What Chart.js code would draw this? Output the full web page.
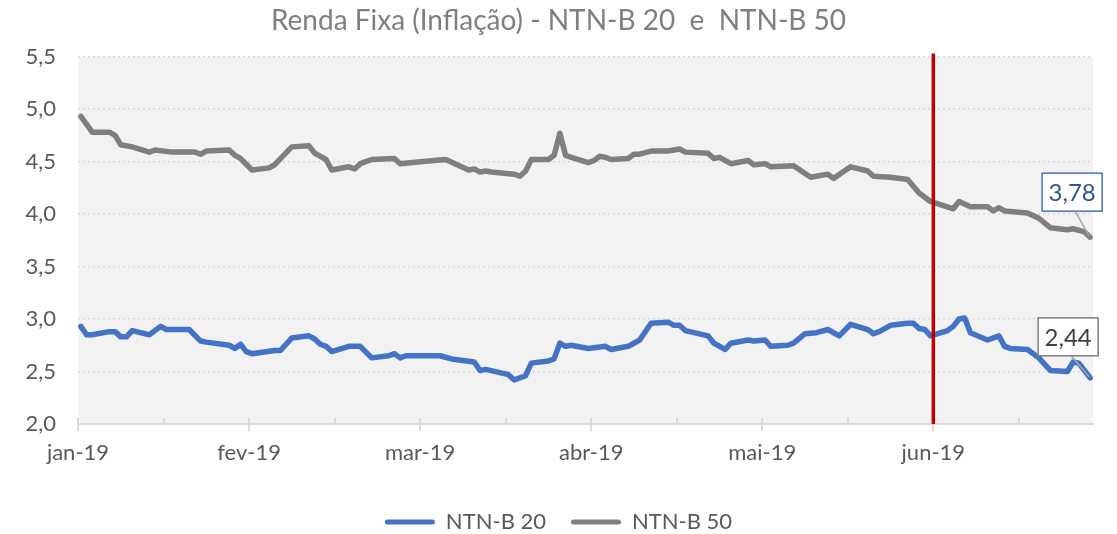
<!DOCTYPE html>
<html lang="pt-BR">
<head>
<meta charset="utf-8">
<title>Renda Fixa (Inflação) - NTN-B 20 e NTN-B 50</title>
<script src="https://cdn.jsdelivr.net/npm/chart.js@4.4.1/dist/chart.umd.min.js"></script>
<style>
  html, body { margin: 0; padding: 0; background: #fff; }
  #grafico { display: block; }
</style>
</head>
<body>
<canvas id="grafico" width="1117" height="534"></canvas>
<script>
// eixo x: índice do ponto (dia) na série; só os vértices visíveis da linha
const meses = ["jan-19", "fev-19", "mar-19", "abr-19", "mai-19", "jun-19"];
const totalPontos = 178;
const pontosPorMarca = 15;
const inicioJunho = 149.5;

const diasNTNB20 = [0, 1, 2, 5, 6, 7, 8, 9, 12, 14, 15, 19, 21, 22, 26, 27, 28, 29, 30, 34, 35, 37, 40, 41, 42, 43, 44, 47, 49,
  51, 54, 55, 56, 57, 63, 65, 69, 70, 71, 75, 76, 78, 79, 82, 83, 84, 85, 86, 89, 92, 93, 96, 98, 100, 103, 104, 105, 106,
  110, 111, 113, 114, 117, 118, 120, 121, 124, 125, 127, 129, 131, 133, 135, 138, 139, 140, 142, 145, 146, 147, 148, 149,
  152, 153, 154, 155, 156, 159, 161, 162, 163, 166, 168, 170, 173, 174, 175, 177];
const taxasNTNB20 = [2.93, 2.85, 2.85, 2.88, 2.88, 2.83, 2.83, 2.89, 2.85, 2.93, 2.90, 2.90, 2.79, 2.78, 2.75, 2.72, 2.76, 2.69, 2.67, 2.70, 2.70, 2.82, 2.84, 2.81, 2.76, 2.74, 2.69, 2.74, 2.74,
  2.63, 2.65, 2.67, 2.63, 2.65, 2.65, 2.62, 2.59, 2.51, 2.52, 2.47, 2.42, 2.46, 2.58, 2.60, 2.62, 2.77, 2.74, 2.75, 2.72, 2.74, 2.71, 2.74, 2.80, 2.96, 2.97, 2.94, 2.94, 2.89,
  2.84, 2.77, 2.71, 2.77, 2.80, 2.79, 2.80, 2.74, 2.75, 2.77, 2.86, 2.87, 2.90, 2.84, 2.95, 2.90, 2.86, 2.88, 2.94, 2.96, 2.96, 2.91, 2.90, 2.84,
  2.89, 2.93, 3.00, 3.01, 2.87, 2.80, 2.84, 2.74, 2.72, 2.71, 2.63, 2.51, 2.50, 2.59, 2.58, 2.44];

const diasNTNB50 = [0, 2, 5, 6, 7, 9, 12, 13, 16, 20, 21, 22, 26, 27, 28, 30, 33, 34, 37, 40, 41, 43, 44, 47, 48, 49, 51, 55, 56,
  60, 64, 66, 68, 69, 70, 71, 72, 76, 77, 78, 79, 82, 83, 84, 85, 86, 89, 90, 91, 92, 93, 96, 97, 98, 100, 103, 105, 106,
  110, 111, 112, 114, 117, 118, 120, 121, 125, 128, 131, 132, 135, 138, 139, 142, 145, 147, 149, 153, 154, 156, 159, 160,
  161, 162, 166, 168, 170, 173, 174, 176, 177];
const taxasNTNB50 = [4.93, 4.78, 4.78, 4.75, 4.66, 4.64, 4.59, 4.61, 4.59, 4.59, 4.57, 4.60, 4.61, 4.56, 4.53, 4.42, 4.44, 4.47, 4.64, 4.65, 4.58, 4.52, 4.42, 4.45, 4.43, 4.48, 4.52, 4.53, 4.48,
  4.50, 4.52, 4.47, 4.42, 4.43, 4.40, 4.41, 4.40, 4.38, 4.36, 4.41, 4.52, 4.52, 4.56, 4.77, 4.56, 4.54, 4.49, 4.51, 4.55, 4.54, 4.52, 4.53, 4.57, 4.57, 4.60, 4.60, 4.62, 4.59,
  4.58, 4.53, 4.54, 4.48, 4.51, 4.47, 4.48, 4.45, 4.46, 4.35, 4.38, 4.34, 4.45, 4.41, 4.36, 4.35, 4.33, 4.20, 4.12, 4.05, 4.12, 4.07, 4.07, 4.03,
  4.06, 4.03, 4.01, 3.96, 3.87, 3.85, 3.86, 3.83, 3.78];

const azul = "#4472C4";
const cinza = "#7F7F7F";
const fonte = "Lato";

function pares(dias, taxas) {
  return dias.map((d, i) => ({ x: d, y: taxas[i] }));
}

function virgula(v, casas) {
  return v.toFixed(casas).replace(".", ",");
}

function rotulo(ctx, ponto, texto, dx, dy, corBorda, corTexto) {
  const w = 60, h = 38;
  const cx = ponto.x + dx, cy = ponto.y + dy;
  ctx.save();
  ctx.strokeStyle = "#A6A6A6";
  ctx.lineWidth = 1.5;
  ctx.beginPath();
  ctx.moveTo(cx + 3, cy + h / 2);
  ctx.lineTo(ponto.x - 1, ponto.y - 1);
  ctx.stroke();
  ctx.fillStyle = "#fff";
  ctx.fillRect(cx - w / 2, cy - h / 2, w, h);
  ctx.strokeStyle = corBorda;
  ctx.lineWidth = 1.5;
  ctx.strokeRect(cx - w / 2, cy - h / 2, w, h);
  ctx.fillStyle = corTexto;
  ctx.font = "24px " + fonte;
  ctx.textAlign = "center";
  ctx.textBaseline = "middle";
  ctx.fillText(texto, cx, cy + 1);
  ctx.restore();
}

const extras = {
  id: "extras",
  beforeDraw(chart) {
    const { ctx, chartArea: a } = chart;
    ctx.save();
    ctx.fillStyle = "#F2F2F2";
    ctx.fillRect(a.left, a.top, a.right - a.left, a.bottom - a.top);
    ctx.restore();
  },
  afterDraw(chart) {
    const { ctx, chartArea: a, scales } = chart;
    const x = scales.x;
    ctx.save();
    // marcas do eixo x
    ctx.strokeStyle = "#D9D9D9";
    ctx.lineWidth = 2;
    x.ticks.forEach((t, i) => {
      const px = Math.round(x.getPixelForValue(t.value));
      ctx.beginPath();
      ctx.moveTo(px, a.bottom - 6);
      ctx.lineTo(px, i % 2 === 0 ? a.bottom + 7 : a.bottom);
      ctx.stroke();
    });
    // linha vermelha em junho
    const xr = x.getPixelForValue(inicioJunho);
    ctx.strokeStyle = "#C00000";
    ctx.lineWidth = 3.5;
    ctx.beginPath();
    ctx.moveTo(xr, a.top - 3);
    ctx.lineTo(xr, a.bottom);
    ctx.stroke();
    ctx.restore();

    const m20 = chart.getDatasetMeta(0).data;
    const m50 = chart.getDatasetMeta(1).data;
    rotulo(ctx, m50[m50.length - 1], virgula(taxasNTNB50[taxasNTNB50.length - 1], 2), -18, -45, azul, "#2F5597");
    rotulo(ctx, m20[m20.length - 1], virgula(taxasNTNB20[taxasNTNB20.length - 1], 2), -22, -41, "#7F7F7F", "#404040");
  }
};

new Chart(document.getElementById("grafico"), {
  type: "line",
  data: {
    datasets: [
      {
        label: "NTN-B 20",
        data: pares(diasNTNB20, taxasNTNB20),
        borderColor: azul,
        backgroundColor: azul,
        borderWidth: 5.5,
        pointRadius: 0,
        tension: 0,
        borderJoinStyle: "round",
        borderCapStyle: "round"
      },
      {
        label: "NTN-B 50",
        data: pares(diasNTNB50, taxasNTNB50),
        borderColor: cinza,
        backgroundColor: cinza,
        borderWidth: 5.5,
        pointRadius: 0,
        tension: 0,
        borderJoinStyle: "round",
        borderCapStyle: "round"
      }
    ]
  },
  options: {
    responsive: false,
    animation: false,
    layout: { padding: { left: 0, right: 0, top: 0, bottom: -9 } },
    plugins: {
      title: {
        display: true,
        text: "Renda Fixa (Inflação) - NTN-B 20  e  NTN-B 50",
        color: "#7F7F7F",
        font: { family: fonte, size: 28, weight: "normal" },
        padding: { top: 4, bottom: 19 }
      },
      legend: {
        position: "bottom",
        labels: {
          color: "#595959",
          font: { family: fonte, size: 22 },
          boxWidth: 50,
          boxHeight: 5,
          padding: 25,
          useBorderRadius: true,
          borderRadius: 2.5,
          generateLabels(chart) {
            return Chart.defaults.plugins.legend.labels.generateLabels(chart).map((it) => {
              it.lineWidth = 0;
              return it;
            });
          }
        }
      },
      tooltip: { enabled: false }
    },
    scales: {
      x: {
        type: "linear",
        min: -0.5,
        max: totalPontos - 0.5,
        afterBuildTicks(scale) {
          const t = [];
          for (let v = -0.5; v < totalPontos - 1; v += pontosPorMarca) t.push({ value: v });
          scale.ticks = t;
        },
        afterFit(scale) { scale.height = 62; },
        grid: { display: false, drawTicks: false },
        border: { display: true, color: "#D9D9D9", width: 2 },
        ticks: {
          autoSkip: false,
          maxRotation: 0,
          padding: 16,
          color: "#595959",
          font: { family: fonte, size: 22 },
          callback: (v, i) => (i % 2 === 0 ? meses[i / 2] : "")
        }
      },
      y: {
        min: 2,
        max: 5.5,
        afterFit(scale) { scale.width = 78; },
        grid: {
          drawTicks: false,
          color: (c) => (c.tick && c.tick.value === 2 ? "rgba(0,0,0,0)" : "#D9D9D9"),
          lineWidth: 1.5
        },
        border: { display: false, dash: [2, 3] },
        ticks: {
          stepSize: 0.5,
          padding: 22,
          color: "#595959",
          font: { family: fonte, size: 22 },
          callback: (v) => virgula(v, 1)
        }
      },
      // margem direita vazia, do mesmo jeito que no gráfico original
      margem: {
        type: "linear",
        position: "right",
        display: true,
        afterFit(scale) { scale.width = 24; },
        grid: { display: false, drawTicks: false },
        border: { display: false },
        ticks: { display: false }
      }
    }
  },
  plugins: [extras]
});
</script>
</body>
</html>
